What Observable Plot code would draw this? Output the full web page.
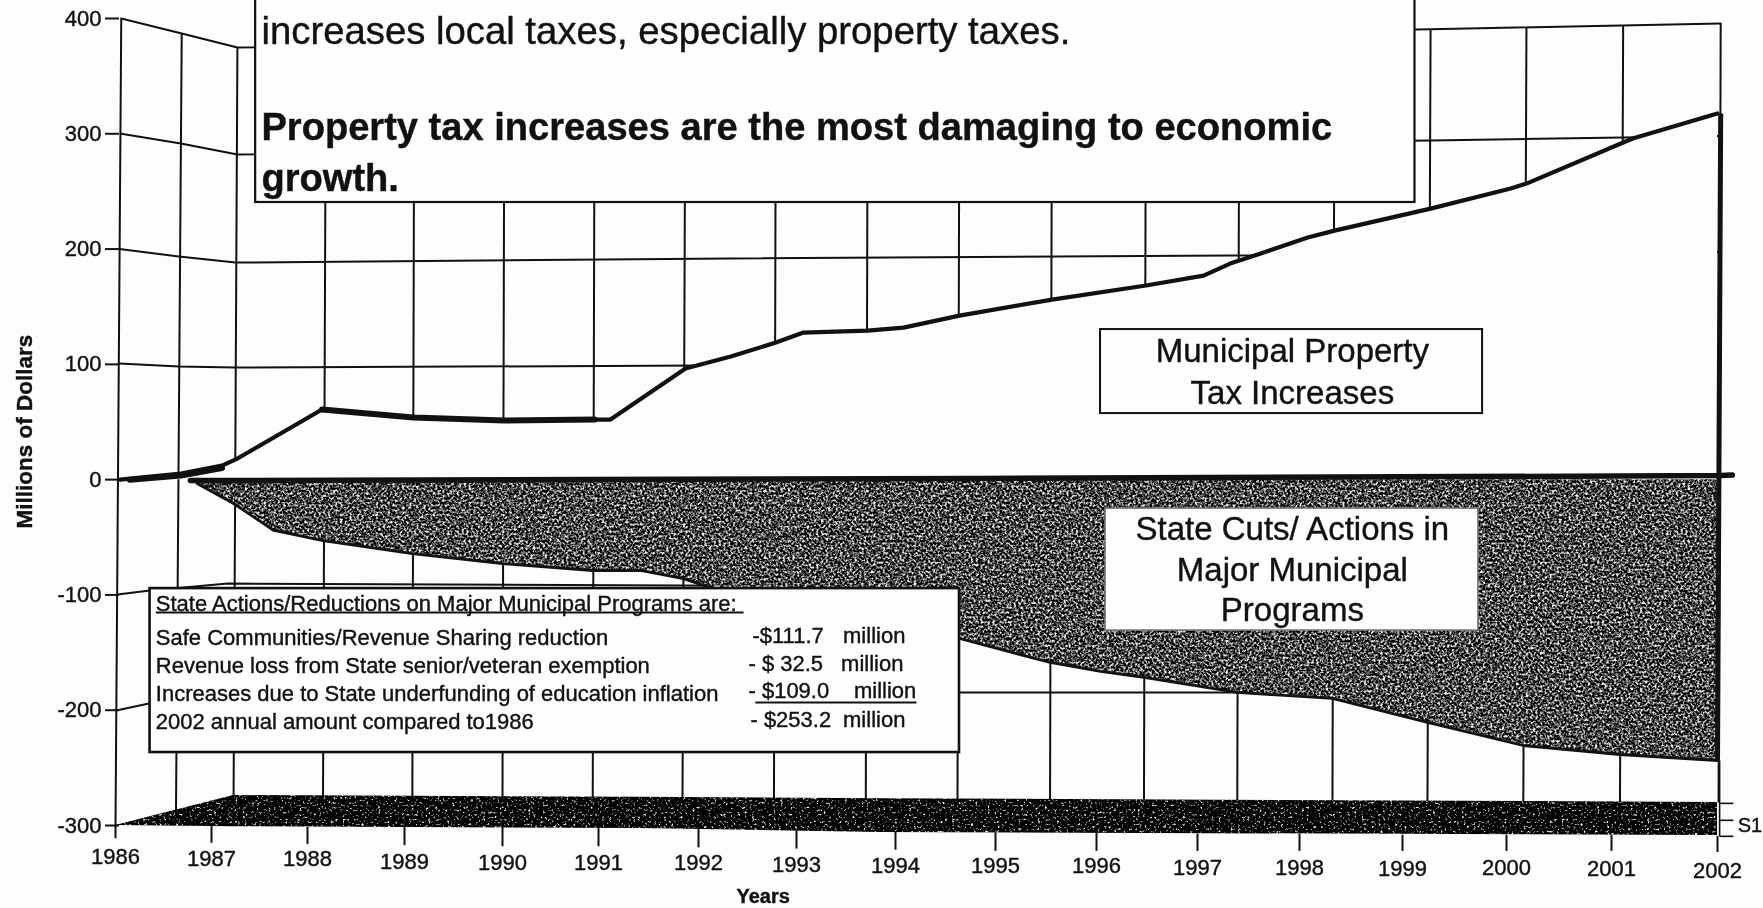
<!DOCTYPE html>
<html>
<head>
<meta charset="utf-8">
<script src="https://cdn.jsdelivr.net/npm/d3@7"></script>
<script src="https://cdn.jsdelivr.net/npm/@observablehq/plot@0.6"></script>
<style>
  html, body { margin: 0; padding: 0; background: #fdfdfd; overflow: hidden; }
  #chart svg { display: block; filter: blur(0.55px); font-family: "Liberation Sans", Arial, sans-serif; }
  #chart svg text { stroke: #111; stroke-width: 0.4px; }
</style>
</head>
<body>
<svg style="position:absolute;width:0;height:0" aria-hidden="true">
  <defs>
    <filter id="grainMid" x="0" y="0" width="100%" height="100%" color-interpolation-filters="sRGB">
      <feTurbulence type="fractalNoise" baseFrequency="0.42" numOctaves="2" seed="7" result="n"/>
      <feColorMatrix in="n" type="matrix" values="2.8 0 0 0 -1.12  2.8 0 0 0 -1.12  2.8 0 0 0 -1.12  0 0 0 0 1"/>
      <feComposite in2="SourceAlpha" operator="in"/>
    </filter>
    <filter id="grainDark" x="0" y="0" width="100%" height="100%" color-interpolation-filters="sRGB">
      <feTurbulence type="fractalNoise" baseFrequency="0.42" numOctaves="2" seed="11" result="n"/>
      <feColorMatrix in="n" type="matrix" values="4.2 0 0 0 -2.42  4.2 0 0 0 -2.42  4.2 0 0 0 -2.42  0 0 0 0 1"/>
      <feComposite in2="SourceAlpha" operator="in"/>
    </filter>
  </defs>
</svg>
<div id="chart"></div>
<script>
// ---- front axis ----
const years = [1986,1987,1988,1989,1990,1991,1992,1993,1994,1995,1996,1997,1998,1999,2000,2001,2002];
const valueTicks = [400,300,200,100,0,-100,-200,-300];
const yearLabelLevel = [-327.7,-328.6,-329.4,-332,-332.9,-332.9,-332.9,-334.6,-335.5,-335.5,-335.5,-336.4,-337.2,-338.1,-337.2,-338.1,-339];
const yearTickTop = [-300,-300,-301,-301,-301,-302,-302,-303,-305,-306,-306,-307,-307,-308,-308,-308,-309];
const yearTickBottom = [-311,-315,-316,-317,-318,-318,-319,-320,-321,-322,-322,-322,-322,-322,-322,-322,-323];

// ---- series, read against the front axis ----
const taxYear = [1986.05,1986.68,1987.11,1987.27,1988.15,1989.09,1990.02,1990.96,1991.12,1991.87,1992.33,1992.79,1993.07,1993.72,1994.08,1994.64,1995.56,1996.49,1997.06,1997.32,1997.62,1998.08,1998.34,1999.27,2000.04,2000.19,2001.2,2002];
const taxValue = [0,5.3,12.2,18.3,60.8,53.9,51.3,52.1,52.1,96.4,106.8,118.9,127.6,129.3,131.9,142.3,156.2,168.4,177,187.4,196.1,210,216,235.1,252.5,256.8,295.9,317.6];
const taxHeavyEarlyYear = [1986.15,1986.68,1987.11];
const taxHeavyEarlyValue = [0,3.6,10];
const taxHeavyMidYear = [1988.15,1989.09,1990.02,1990.96];
const taxHeavyMidValue = [60.8,53.9,51.3,52.1];
const cutYear = [1986.85,1987.23,1987.65,1988.16,1989.08,1990,1990.94,1991.42,1991.85,1992.15,1992.79,1993.7,1994.64,1995.54,1996.04,1996.47,1997.39,1998.32,1999.24,2000.04,2000.16,2001.08,2002];
const cutValue = [-3.4,-20.7,-44.1,-52.8,-64.1,-72.8,-78.8,-78.8,-85.8,-94.5,-106.6,-123.9,-137.8,-158.6,-166.4,-171.6,-184.6,-189.8,-210.6,-228,-230.6,-238.4,-243.6];
const zeroBarYear = [1986.78,1994.85,2002.03,2002.14];
const zeroBarValue = [-0.8,1,3.5,4];

// ---- floor of the 3-D chart ----
const floorYear = [1986,1987.23,1991.4,1993.85,2002];
const floorTop = [-300,-274,-275.6,-276.8,-280];
const floorBottom = [-300,-301,-302.6,-306,-308.7];

// ---- wall and depth grid ----
const gridTopYear = [1986.06,1986.69,1987.27,1988.19,1989.1,1990.02,1990.96,1991.87,1992.79,1993.72,1994.64,1995.56,1996.49,1997.41,1998.34,1999.27,2000.19,2001.11,2002.03];
const gridTopValue = [400,387,374.8,375.9,377.1,378.4,379.6,380.8,381.9,383.1,384.3,385.6,387,388.1,389.4,390.7,392.6,393.9,395.6];
const gridBottomYear = [1986,1986.63,1987.23,1988.16,1989.08,1990,1990.94,1991.84,1992.77,1993.7,1994.62,1995.54,1996.47,1997.39,1998.32,1999.24,2000.16,2001.08,2002.01];
const gridBottomValue = [-300.9,-288.8,-274,-274.4,-274.7,-275.1,-275.5,-275.9,-276.2,-276.6,-277,-277.3,-277.7,-278.1,-278.5,-278.9,-279.2,-279.6,-280];
const wall400 = {x:[1986.06,1986.69,1987.27,1999.27,2002.03], y:[400,387,374.8,390.7,395.6]};
const wall300 = {x:[1986.06,1986.68,1987.27,1999.27,2001.11,2002.03], y:[300,291.5,282,294.2,296.7,298]};
const wall200 = {x:[1986.04,1986.66,1987.25,1992.33,1997.32,2002.03], y:[200,193.5,188.3,191.8,194.4,197.4]};
const wall100 = {x:[1986.04,1986.66,1987.25,1992.02,2002.03], y:[100.7,98.1,97.2,99,101.6]};
const wallM100 = {x:[1986.02,1986.36,1987.17,1991.82,2002], y:[-99.6,-96.2,-90.1,-91.9,-95.3]};
const wallM200 = {x:[1986.02,1986.36,1987.23,2002], y:[-200,-194,-184.6,-184.6]};
const seriesTickYear = [2002.02,2002.15];
const seriesTickValue = [-280.8,-295.5,-309.4];

// ---- text ----
const headRegular = "increases local taxes, especially property taxes.";
const headBold = ["Property tax increases are the most damaging to economic","growth."];
const headBoldLevel = [305.6,261.3];
const listTitle = "State Actions/Reductions on Major Municipal Programs are:";
const listLabels = ["Safe Communities/Revenue Sharing reduction","Revenue loss from State senior/veteran exemption","Increases due to State underfunding of education inflation","2002 annual amount compared to1986"];
const listLabelLevel = [-136.9,-162,-185.5,-210.6];
const listAmounts = ["-$111.7","- $ 32.5","- $109.0","- $253.2"];
const listAmountYear = [1992.55,1992.51,1992.51,1992.53];
const listUnitYear = [1993.47,1993.45,1993.58,1993.47];
const listAmountLevel = [-135.2,-159.5,-183.7,-208.8];
const taxLabel = ["Municipal Property","Tax Increases"];
const taxLabelLevel = [111.5,75.2];
const cutLabel = ["State Cuts/ Actions in","Major Municipal","Programs"];
const cutLabelLevel = [-43.6,-78.7,-113.8];

const zip = (xs, ys) => xs.map((x, i) => ({x, y: ys[i]}));
const ink = "#111";
const grid = {stroke: ink, strokeWidth: 2};
const wallRow = w => Plot.line(zip(w.x, w.y), {x: "x", y: "y", ...grid});
const font = {fontFamily: "Liberation Sans, Arial, sans-serif", fill: ink};
const box = (x1, x2, y1, y2, stroke, strokeWidth) =>
  Plot.rect([{x1, x2, y1, y2}], {x1: "x1", x2: "x2", y1: "y1", y2: "y2", fill: "#fefefe", stroke, strokeWidth});

const chart = Plot.plot({
  width: 1763,
  height: 908,
  marginLeft: 119,
  marginTop: 18,
  marginRight: 46,
  marginBottom: 83,
  style: {background: "#fdfdfd", fontFamily: "Liberation Sans, Arial, sans-serif"},
  x: {type: "linear", axis: null, domain: years, range: [115,211,307,404,502,598,698,796,895,995,1096,1197,1299,1402,1506,1611,1717]},
  y: {type: "linear", axis: null, domain: [-300, 400], range: [825, 18]},
  marks: [
    // grid
    Plot.link(gridTopYear.map((x, i) => ({x1: x, y1: gridTopValue[i], x2: gridBottomYear[i], y2: gridBottomValue[i]})),
      {x1: "x1", y1: "y1", x2: "x2", y2: "y2", ...grid}),
    wallRow(wall400), wallRow(wall300), wallRow(wall200), wallRow(wall100), wallRow(wallM100), wallRow(wallM200),

    // municipal property tax increases
    Plot.areaY(taxYear.map((x, i) => ({x, y1: 0, y2: taxValue[i]})), {x: "x", y1: "y1", y2: "y2", fill: "#fdfdfd"}),
    Plot.line(zip(taxYear, taxValue), {x: "x", y: "y", stroke: ink, strokeWidth: 4.2, strokeLinejoin: "round"}),
    Plot.line(zip(taxHeavyEarlyYear, taxHeavyEarlyValue), {x: "x", y: "y", stroke: ink, strokeWidth: 6}),
    Plot.line(zip(taxHeavyMidYear, taxHeavyMidValue), {x: "x", y: "y", stroke: ink, strokeWidth: 6}),

    // state cuts
    Plot.areaY(cutYear.map((x, i) => ({x, y1: 0, y2: cutValue[i]})), {x: "x", y1: "y1", y2: "y2", fill: "#555", imageFilter: "url(#grainMid)"}),
    Plot.line(zip(cutYear, cutValue), {x: "x", y: "y", stroke: ink, strokeWidth: 2.8}),
    Plot.line(zip(zeroBarYear, zeroBarValue), {x: "x", y: "y", stroke: ink, strokeWidth: 5.5}),

    // floor
    Plot.areaY(floorYear.map((x, i) => ({x, y1: floorTop[i], y2: floorBottom[i]})), {x: "x", y1: "y1", y2: "y2", fill: "#111", imageFilter: "url(#grainDark)"}),

    // right-hand edge and series key
    Plot.link([{x1: 2002.03, y1: 317.6, x2: 2002, y2: -243.6}], {x1: "x1", y1: "y1", x2: "x2", y2: "y2", stroke: ink, strokeWidth: 5}),
    Plot.link([{x1: 2002.02, y1: -243.6, x2: 2002.02, y2: -309.4}], {x1: "x1", y1: "y1", x2: "x2", y2: "y2", stroke: ink, strokeWidth: 1.6}),
    Plot.link(seriesTickValue.map(y => ({y})), {x1: () => seriesTickYear[0], x2: () => seriesTickYear[1], y1: "y", y2: "y", stroke: ink, strokeWidth: 1.6}),
    Plot.text(["S1"], {x: () => 2002.19, y: () => -300, textAnchor: "start", fontSize: 20, ...font}),

    // axes
    Plot.axisY({ticks: valueTicks, tickSize: 14, tickPadding: 4, tickFormat: d => String(d), label: null, fontSize: 22, fill: ink, stroke: ink, strokeWidth: 2}),
    Plot.link(years.map((x, i) => ({x, y1: yearTickTop[i], y2: yearTickBottom[i]})), {x1: "x", x2: "x", y1: "y1", y2: "y2", ...grid}),
    Plot.text(years.map((x, i) => ({x, y: yearLabelLevel[i], t: String(x)})), {x: "x", y: "y", text: "t", fontSize: 22, ...font}),
    Plot.text(["Years"], {x: () => 1992.66, y: () => -361.5, fontSize: 20, fontWeight: "bold", ...font}),
    Plot.text(["Millions of Dollars"], {x: () => 1985.05, y: () => 41.7, rotate: -90, fontSize: 22.5, fontWeight: "bold", ...font}),

    // headline box
    box(1987.46, 1999.12, 460, 240.4, ink, 2.2),
    Plot.text([headRegular], {x: () => 1987.52, y: () => 388.9, textAnchor: "start", fontSize: 38.3, ...font}),
    Plot.text(headBold.map((t, i) => ({t, y: headBoldLevel[i]})), {x: () => 1987.52, y: "y", text: "t", textAnchor: "start", fontSize: 38.1, fontWeight: "bold", ...font}),

    // list box
    box(1986.36, 1994.64, -94.5, -236.7, ink, 2.6),
    Plot.text([listTitle], {x: () => 1986.42, y: () => -107.5, textAnchor: "start", fontSize: 22, ...font}),
    Plot.link([{x1: 1986.42, x2: 1992.46, y: -115.3}, {x1: 1992.58, x2: 1994.21, y: -193.3}], {x1: "x1", x2: "x2", y1: "y", y2: "y", stroke: ink, strokeWidth: 2}),
    Plot.text(listLabels.map((t, i) => ({t, y: listLabelLevel[i]})), {x: () => 1986.42, y: "y", text: "t", textAnchor: "start", fontSize: 22, ...font}),
    Plot.text(listAmounts.map((t, i) => ({t, x: listAmountYear[i], y: listAmountLevel[i]})), {x: "x", y: "y", text: "t", textAnchor: "start", fontSize: 22, ...font}),
    Plot.text(listUnitYear.map((x, i) => ({x, y: listAmountLevel[i]})), {x: "x", y: "y", text: () => "million", textAnchor: "start", fontSize: 22, ...font}),

    // series labels
    box(1996.04, 1999.77, 130.2, 57.3, ink, 2),
    Plot.text(taxLabel.map((t, i) => ({t, y: taxLabelLevel[i]})), {x: () => 1997.93, y: "y", text: "t", fontSize: 33, ...font}),
    box(1996.09, 1999.73, -25.1, -130.9, "#777", 1.6),
    Plot.text(cutLabel.map((t, i) => ({t, y: cutLabelLevel[i]})), {x: () => 1997.93, y: "y", text: "t", fontSize: 33, ...font})
  ]
});
document.getElementById("chart").appendChild(chart);
</script>
</body>
</html>
